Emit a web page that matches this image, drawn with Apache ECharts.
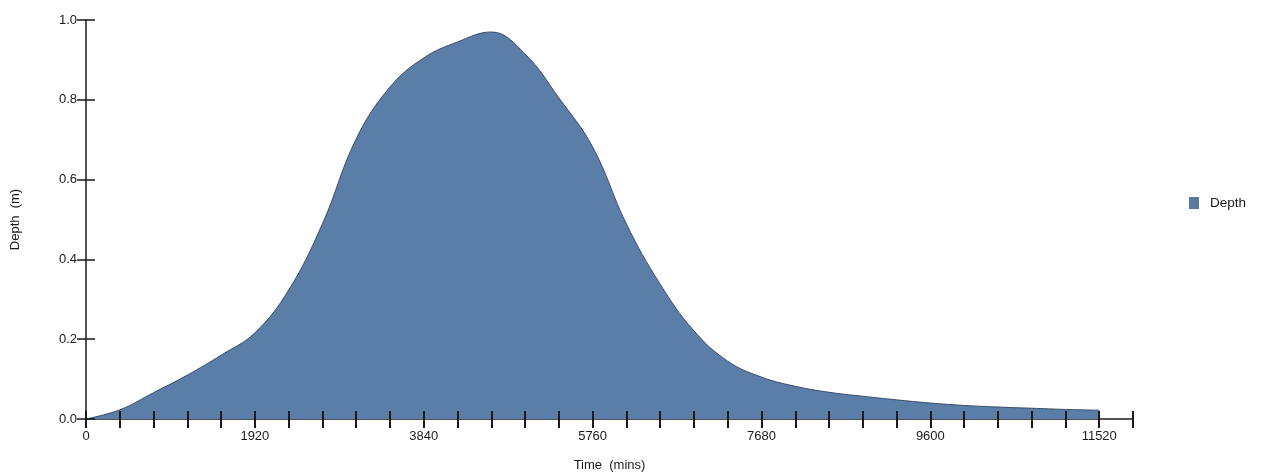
<!DOCTYPE html>
<html>
<head>
<meta charset="utf-8">
<script src="https://cdn.jsdelivr.net/npm/echarts@6/dist/echarts.min.js"></script>
<style>html,body{margin:0;padding:0;background:#fff}#c{width:1262px;height:474px}</style>
</head>
<body>
<div id="c"></div>
<script>
// Time (mins) and depth (m), every 384 mins
const times  = [0, 384, 768, 1152, 1536, 1920, 2304, 2688, 3072, 3456, 3840, 4224, 4608, 4992, 5376, 5760, 6144, 6528, 6912, 7296, 7680, 8064, 8448, 8832, 9216, 9600, 9984, 10368, 10752, 11136, 11520];
const depths = [0, 0.023, 0.066, 0.110, 0.160, 0.216, 0.323, 0.489, 0.702, 0.832, 0.905, 0.945, 0.970, 0.915, 0.805, 0.682, 0.489, 0.338, 0.221, 0.145, 0.105, 0.082, 0.067, 0.057, 0.048, 0.040, 0.034, 0.030, 0.027, 0.024, 0.022];
const xLabelStep = 1920;
const xTickStep = 384;
const xMax = 11904;
const yTicks = [0, 0.2, 0.4, 0.6, 0.8, 1.0];

const chart = echarts.init(document.getElementById('c'));
const font = 'Liberation Sans, Arial, sans-serif';
const ink = '#1a1a1a';
const data = times.map((t, i) => [t, depths[i]]);

chart.setOption({
  animation: false,
  backgroundColor: '#ffffff',
  grid: { left: 86, right: 129, top: 20, bottom: 55, containLabel: false, outerBoundsMode: 'none' },
  legend: {
    left: 1184, top: 191, orient: 'vertical',
    itemWidth: 10, itemHeight: 12, itemGap: 6,
    icon: 'rect',
    textStyle: { fontFamily: font, fontSize: 13.5, color: ink, padding: [0, 0, 0, 6] },
    data: ['Depth']
  },
  xAxis: [{
    type: 'value', min: 0, max: xMax, interval: xTickStep,
    name: 'Time  (mins)', nameLocation: 'middle', nameGap: 40,
    nameTextStyle: { fontFamily: font, fontSize: 13, color: ink },
    axisLine: { show: true, lineStyle: { color: ink, width: 1.5 } },
    axisTick: { show: true, length: 9, lineStyle: { color: ink, width: 2 } },
    axisLabel: {
      margin: 11, fontFamily: font, fontSize: 13, color: ink,
      formatter: v => (v % xLabelStep === 0 ? String(v) : '')
    },
    splitLine: { show: false }
  }, {
    type: 'value', min: 0, max: xMax, interval: xTickStep, position: 'bottom', z: 10,
    axisLine: { show: false },
    axisTick: { show: true, inside: true, length: 8, lineStyle: { color: ink, width: 2 } },
    axisLabel: { show: false },
    splitLine: { show: false }
  }],
  yAxis: [{
    type: 'value', min: 0, max: 1, interval: 0.2,
    name: 'Depth  (m)', nameLocation: 'middle', nameGap: 64, nameRotate: 90,
    nameTextStyle: { fontFamily: font, fontSize: 13, color: ink },
    axisLine: { show: true, lineStyle: { color: ink, width: 1.5 } },
    axisTick: { show: true, length: 9, lineStyle: { color: ink, width: 1.5 } },
    axisLabel: {
      margin: 9, fontFamily: font, fontSize: 13, color: ink,
      formatter: v => (yTicks.some(t => Math.abs(t - v) < 1e-9) ? v.toFixed(1) : '')
    },
    splitLine: { show: false }
  }, {
    type: 'value', min: 0, max: 1, interval: 0.2, position: 'left', z: 10,
    axisLine: { show: false },
    axisTick: { show: true, inside: true, length: 9, lineStyle: { color: ink, width: 1.5 } },
    axisLabel: { show: false },
    splitLine: { show: false }
  }],
  series: [{
    name: 'Depth', type: 'line', data: data,
    smooth: 0.4, symbol: 'none',
    itemStyle: { color: '#56799f' },
    lineStyle: { color: '#3a4d6a', width: 1 },
    areaStyle: { color: '#5a7ea8', opacity: 1 }
  }]
});
</script>
</body>
</html>
